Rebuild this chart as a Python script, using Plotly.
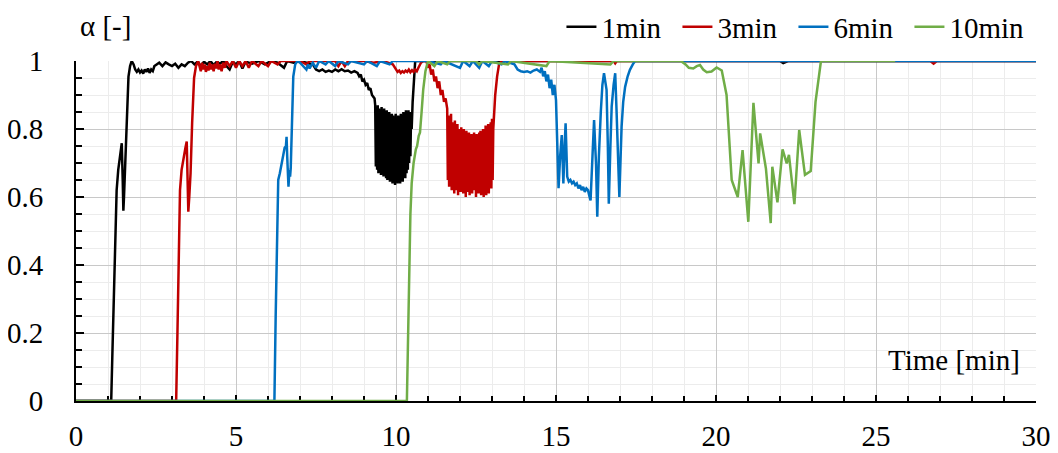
import plotly.graph_objects as go

# ---------------- data ----------------
series_names = ["1min", "3min", "6min", "10min"]
series_colors = ["#000000", "#C00000", "#0070C0", "#70AD47"]

t_1min = [0, 1.10, 1.14, 1.18, 1.22, 1.27, 1.32, 1.38, 1.43, 1.46, 1.48, 1.50, 1.53, 1.58, 1.64, 1.69, 1.74,
          1.80, 1.85, 1.90, 1.95, 2.00, 2.05, 2.10, 2.15, 2.20, 2.25, 2.30, 2.35, 2.40, 2.45, 2.52, 2.6, 2.7, 2.8,
          2.9, 3.0, 3.1, 3.2, 3.3, 3.4, 3.5, 3.6, 3.7, 3.8, 3.9, 4.0, 4.1, 4.2, 4.3, 4.4, 4.5, 4.6, 4.7, 4.8,
          4.9, 5.0, 5.1, 5.2, 5.3, 5.5, 5.7, 5.9, 6.1, 6.3, 6.5, 6.6, 6.8, 7.0, 7.2, 7.4, 7.5, 7.6, 7.7, 7.8,
          7.9, 8.0, 8.1, 8.2, 8.3, 8.4, 8.5, 8.6, 8.7, 8.8, 8.85, 8.9, 8.95, 9.0, 9.05, 9.1, 9.15, 9.2, 9.25,
          9.3, 9.33,
          9.35, 9.37, 9.39, 9.41, 9.43, 9.45, 9.47, 9.49, 9.51, 9.53, 9.55, 9.57, 9.59, 9.61, 9.63, 9.65, 9.67,
          9.69, 9.71, 9.73, 9.75, 9.77, 9.79, 9.81, 9.83, 9.85, 9.87, 9.89, 9.91, 9.93, 9.95, 9.97, 9.99, 10.01,
          10.03, 10.05, 10.07, 10.09, 10.11, 10.13, 10.15, 10.17, 10.19, 10.21, 10.23, 10.25, 10.27, 10.29,
          10.31, 10.33, 10.35, 10.37, 10.39, 10.41, 10.43, 10.45, 10.47, 10.49,
          10.52, 10.56, 10.60, 22.0, 22.1, 22.25, 30.0]
a_1min = [0, 0, 0.15, 0.32, 0.45, 0.62, 0.68, 0.72, 0.758, 0.65, 0.56, 0.60, 0.69, 0.83, 0.954, 0.985, 1.0,
          0.99, 0.975, 0.968, 0.975, 0.966, 0.972, 0.963, 0.975, 0.968, 0.978, 0.965, 0.975, 0.97, 0.985, 0.99,
          0.995, 0.985, 0.996, 0.99, 0.985, 0.992, 0.98, 0.99, 0.985, 0.995, 1.0, 0.99, 0.998, 0.985, 0.998,
          0.99, 1.0, 0.988, 0.998, 0.992, 1.0, 0.985, 0.975, 0.998, 0.99, 1.0, 0.978, 0.998, 0.992, 1.0, 0.99,
          1.0, 0.995, 0.98, 1.0, 0.995, 1.0, 0.995, 0.99, 0.975, 0.97, 0.975, 0.968, 0.972, 0.968, 0.975, 0.97,
          0.976, 0.97, 0.972, 0.966, 0.97, 0.965, 0.955, 0.96, 0.94, 0.945, 0.93, 0.935, 0.915, 0.92, 0.90,
          0.895, 0.89,
          0.87, 0.69, 0.865, 0.68, 0.87, 0.67, 0.86, 0.685, 0.855, 0.665, 0.865, 0.675, 0.85, 0.66, 0.86, 0.67,
          0.845, 0.655, 0.855, 0.65, 0.84, 0.665, 0.85, 0.645, 0.835, 0.655, 0.845, 0.64, 0.84, 0.65, 0.83,
          0.635, 0.845, 0.645, 0.835, 0.64, 0.84, 0.65, 0.83, 0.64, 0.845, 0.655, 0.835, 0.645, 0.85, 0.66,
          0.84, 0.655, 0.855, 0.67, 0.845, 0.68, 0.855, 0.70, 0.85, 0.72, 0.84, 0.80,
          0.88, 0.96, 1.0, 1.0, 0.994, 1.0, 1.0]

t_3min = [0, 3.13, 3.17, 3.21, 3.25, 3.30, 3.36, 3.42, 3.46, 3.48, 3.51, 3.54, 3.58, 3.63, 3.69, 3.75, 3.82,
          3.86, 3.90, 3.94, 3.98, 4.02, 4.06, 4.10, 4.14, 4.18, 4.22, 4.26, 4.30, 4.34, 4.38, 4.42, 4.46, 4.50,
          4.55, 4.60, 4.65, 4.70, 4.80, 4.90, 5.00, 5.10, 5.20, 5.30, 5.40, 5.50, 5.70, 5.80, 6.00, 6.10, 6.30,
          6.40, 7.00, 7.20, 7.30, 8.10, 8.20, 8.30, 8.40, 8.50, 9.00, 9.30, 9.60, 9.90,
          10.0, 10.05, 10.1, 10.15, 10.2, 10.25, 10.3, 10.35, 10.4, 10.45, 10.5, 10.55, 10.6, 10.65, 10.7,
          10.78, 10.85, 10.95, 11.0, 11.05, 11.1, 11.15, 11.2, 11.25, 11.3, 11.35, 11.4, 11.45, 11.5, 11.55,
          11.6,
          11.62, 11.64, 11.66, 11.68, 11.70, 11.72, 11.74, 11.76, 11.78, 11.80, 11.82, 11.84, 11.86, 11.88,
          11.90, 11.92, 11.94, 11.96, 11.98, 12.00, 12.02, 12.04, 12.06, 12.08, 12.10, 12.12, 12.14, 12.16,
          12.18, 12.20, 12.22, 12.24, 12.26, 12.28, 12.30, 12.32, 12.34, 12.36, 12.38, 12.40, 12.42, 12.44,
          12.46, 12.48, 12.50, 12.52, 12.54, 12.56, 12.58, 12.60, 12.62, 12.64, 12.66, 12.68, 12.70, 12.72,
          12.74, 12.76, 12.78, 12.80, 12.82, 12.84, 12.86, 12.88, 12.90, 12.92, 12.94, 12.96, 12.98, 13.00,
          13.02, 13.04,
          13.10, 13.16, 13.22, 13.30, 16.80, 16.85, 16.90, 26.70, 26.80, 26.90, 30.0]
a_3min = [0, 0, 0.20, 0.42, 0.62, 0.68, 0.72, 0.745, 0.763, 0.66, 0.557, 0.60, 0.67, 0.82, 0.95, 0.985, 1.0,
          0.985, 0.97, 0.995, 0.975, 0.99, 0.968, 0.985, 0.972, 0.995, 0.975, 0.99, 0.97, 0.992, 0.978, 1.0,
          0.975, 0.99, 0.97, 0.995, 0.98, 1.0, 0.985, 1.0, 0.98, 1.0, 0.985, 1.0, 0.98, 1.0, 0.985, 1.0, 0.985,
          1.0, 0.99, 1.0, 1.0, 0.99, 1.0, 1.0, 0.985, 1.0, 0.985, 1.0, 1.0, 0.995, 1.0, 0.99,
          0.975, 0.968, 0.972, 0.965, 0.97, 0.966, 0.972, 0.968, 0.975, 0.967, 0.973, 0.968, 0.975, 0.97, 0.98,
          0.995, 1.0, 1.0, 0.98, 0.99, 0.96, 0.975, 0.94, 0.955, 0.92, 0.94, 0.90, 0.915, 0.88, 0.89, 0.86,
          0.65, 0.84, 0.63, 0.83, 0.64, 0.845, 0.62, 0.82, 0.635, 0.81, 0.61, 0.825, 0.64, 0.80, 0.62, 0.815,
          0.605, 0.80, 0.63, 0.79, 0.615, 0.805, 0.64, 0.785, 0.61, 0.80, 0.625, 0.78, 0.60, 0.795, 0.63, 0.78,
          0.615, 0.79, 0.605, 0.775, 0.635, 0.785, 0.61, 0.77, 0.62, 0.79, 0.64, 0.775, 0.60, 0.785, 0.625,
          0.77, 0.61, 0.79, 0.635, 0.795, 0.605, 0.78, 0.63, 0.80, 0.60, 0.785, 0.62, 0.81, 0.605, 0.79, 0.635,
          0.815, 0.61, 0.80, 0.64, 0.82, 0.625, 0.83, 0.65, 0.80,
          0.90, 0.955, 0.99, 1.0, 1.0, 0.993, 1.0, 1.0, 0.992, 1.0, 1.0]

t_6min = [0, 6.20, 6.24, 6.28, 6.32, 6.37, 6.41, 6.46, 6.52, 6.56, 6.58, 6.60, 6.62, 6.64, 6.67, 6.69, 6.71,
          6.75, 6.79, 6.85, 6.92,
          7.0, 7.1, 7.2, 7.25, 7.3, 7.4, 7.5, 7.6, 7.8, 7.9, 8.1, 8.2, 8.5, 8.6, 9.0, 9.1, 9.4, 9.5, 9.8, 9.9,
          11.0, 11.4, 11.5, 12.0, 12.1, 12.3, 12.4, 12.6, 12.7, 12.9, 13.0, 13.3, 13.4, 13.7, 13.8, 13.9, 14.0,
          14.1, 14.2, 14.3, 14.4, 14.5, 14.55, 14.6, 14.65, 14.7, 14.75, 14.8, 14.85, 14.9, 14.95, 15.0,
          15.05, 15.08, 15.13, 15.18, 15.21, 15.23, 15.27, 15.30, 15.35, 15.40, 15.45, 15.50, 15.55, 15.60,
          15.65, 15.70, 15.75, 15.80, 15.85, 15.90, 15.95, 16.00, 16.05, 16.08, 16.14, 16.19, 16.22, 16.25,
          16.29, 16.34, 16.40, 16.45, 16.50, 16.55, 16.58, 16.62, 16.65, 16.70, 16.74, 16.80, 16.85, 16.89,
          16.92, 16.96, 16.98, 17.02, 17.05, 17.10, 17.16, 17.24, 17.31, 17.40, 17.47, 30.0]
a_6min = [0, 0, 0.25, 0.50, 0.65, 0.67, 0.69, 0.72, 0.745, 0.75, 0.777, 0.72, 0.66, 0.63, 0.68, 0.66, 0.684,
          0.85, 0.954, 0.99, 1.0,
          0.995, 0.985, 0.975, 0.99, 0.978, 0.995, 0.98, 1.0, 0.99, 1.0, 0.985, 1.0, 0.99, 1.0, 0.99, 1.0,
          0.985, 1.0, 0.99, 1.0, 1.0, 0.99, 1.0, 0.98, 1.0, 0.985, 1.0, 0.98, 1.0, 0.985, 1.0, 0.99, 1.0, 0.99,
          0.975, 0.97, 0.968, 0.97, 0.966, 0.972, 0.975, 0.968, 0.98, 0.955, 0.97, 0.94, 0.96, 0.92, 0.945,
          0.90, 0.93, 0.885,
          0.70, 0.626, 0.72, 0.782, 0.70, 0.64, 0.75, 0.817, 0.66, 0.645, 0.65, 0.64, 0.645, 0.635, 0.64,
          0.625, 0.635, 0.62, 0.63, 0.615, 0.625, 0.62, 0.60, 0.59, 0.72, 0.826, 0.76, 0.70, 0.542, 0.72,
          0.85, 0.93, 0.964, 0.94, 0.915, 0.75, 0.58, 0.75, 0.866, 0.93, 0.964, 0.86, 0.768, 0.66, 0.60,
          0.72, 0.807, 0.88, 0.924, 0.955, 0.974, 0.99, 1.0, 1.0]

t_10min = [0, 10.34, 10.37, 10.41, 10.45, 10.49, 10.55, 10.62, 10.66, 10.71, 10.75, 10.80, 10.85, 10.92, 11.0,
           11.2, 11.3, 11.6, 11.7, 12.5, 12.6, 12.7, 13.5, 13.6, 14.7, 14.8, 16.7, 16.8, 18.9, 19.05, 19.15,
           19.29, 19.4, 19.5, 19.6, 19.71, 19.86, 20.02, 20.18, 20.33, 20.49, 20.68, 20.83, 21.01, 21.17,
           21.33, 21.38, 21.56, 21.71, 21.76, 21.92, 22.08, 22.21, 22.28, 22.45, 22.6, 22.78, 22.96, 23.11,
           23.28, 25.6]
a_10min = [0, 0, 0.15, 0.376, 0.55, 0.64, 0.70, 0.74, 0.75, 0.78, 0.79, 0.85, 0.915, 0.97, 1.0,
           0.985, 1.0, 0.99, 1.0, 1.0, 0.99, 1.0, 0.99, 1.0, 0.985, 1.0, 0.99, 1.0, 1.0, 0.99, 0.98,
           0.978, 0.985, 0.988, 0.975, 0.967, 0.969, 0.981, 0.972, 0.90, 0.65, 0.60, 0.738, 0.527, 0.877,
           0.699, 0.787, 0.684, 0.523, 0.689, 0.584, 0.74, 0.699, 0.724, 0.579, 0.797, 0.665, 0.676, 0.88,
           1.0, 1.0]

x_tick_values = [0, 5, 10, 15, 20, 25, 30]
y_tick_values = [0, 0.2, 0.4, 0.6, 0.8, 1]
y_title = "α [-]"
x_title = "Time [min]"

# ---------------- figure ----------------
FONT = "Liberation Serif"
FS = 29
font_main = dict(family=FONT, size=FS, color="black")

fig = go.Figure()
for name, color, tx, ay in zip(series_names, series_colors,
                               [t_1min, t_3min, t_6min, t_10min],
                               [a_1min, a_3min, a_6min, a_10min]):
    fig.add_trace(go.Scatter(x=tx, y=ay, mode="lines", name=name,
                             line=dict(color=color, width=2.5)))

# the page body has an 8px margin, so the figure is 8px smaller on each side
fig.update_layout(
    width=1050, height=445,
    margin=dict(l=68, r=22, t=53, b=52, autoexpand=False),
    plot_bgcolor="white", paper_bgcolor="white",
    font=font_main,
    showlegend=True,
    legend=dict(orientation="h", x=0.989, xanchor="right", y=1.10, yanchor="middle",
                bgcolor="rgba(0,0,0,0)", font=font_main, itemwidth=30,
                entrywidth=71, entrywidthmode="pixels"),
)

fig.update_xaxes(
    range=[0, 30], tickvals=x_tick_values, ticks="inside", ticklen=6, tickwidth=1.5, tickcolor="black",
    showgrid=True, gridcolor="#c8c8c8", gridwidth=1.3,
    minor=dict(dtick=1, tick0=0, showgrid=True, gridcolor="#ececec", gridwidth=1,
               ticks="inside", ticklen=5, tickwidth=1.5, tickcolor="black"),
    showline=True, linecolor="black", linewidth=2, zeroline=False,
    ticklabelstandoff=8, layer="below traces", automargin=False, tickfont=font_main,
)
fig.update_yaxes(
    range=[0, 1], tickvals=y_tick_values, ticks="inside", ticklen=8, tickwidth=1.5, tickcolor="black",
    showgrid=True, gridcolor="#c8c8c8", gridwidth=1.3,
    minor=dict(dtick=0.05, tick0=0, showgrid=True, gridcolor="#ececec", gridwidth=1,
               ticks="inside", ticklen=6, tickwidth=1.5, tickcolor="black"),
    showline=True, linecolor="black", linewidth=2, zeroline=False,
    ticklabelstandoff=25, layer="below traces", automargin=False, tickfont=font_main,
)

fig.add_annotation(text=y_title, xref="paper", yref="paper", x=0.002, y=1.103,
                   xanchor="left", yanchor="middle", showarrow=False, font=font_main)
fig.add_annotation(text=x_title, xref="paper", yref="paper", x=0.985, y=0.12,
                   xanchor="right", yanchor="middle", showarrow=False, font=font_main)

fig.write_html("out.html")
